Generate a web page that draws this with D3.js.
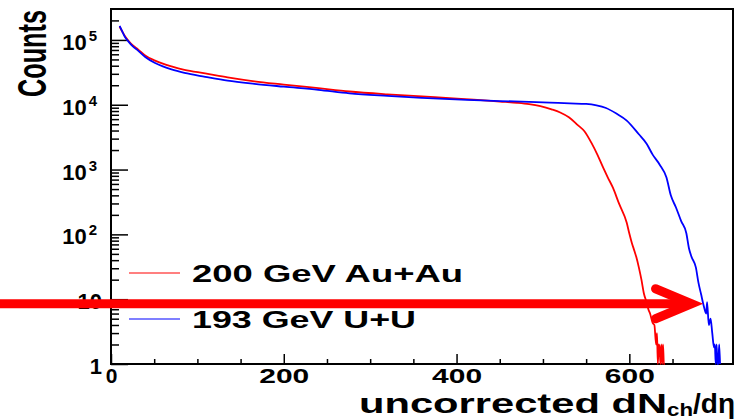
<!DOCTYPE html>
<html>
  <head>
    <meta charset="utf-8">
    <style>
      body { margin: 0; background: #fff; }
      text { font-family: "Liberation Sans", Arial, sans-serif; }
      .axis path { display: none; }
      .axis line { stroke: #000; stroke-width: 1.5px; }
      .axis text { font-size: 21px; font-weight: bold; fill: #000; }
    </style>
  </head>
  <body>
    <svg width="743" height="419"></svg>
    <script src="https://cdn.jsdelivr.net/npm/d3@7"></script>
    <script>
      // uncorrected dNch/deta, counts
      var auauX = [10, 13, 16, 20, 25, 31, 40, 51, 60, 70, 85, 109, 135, 166, 200, 240, 276, 320, 360, 392, 420, 450, 470, 484, 497, 510, 520, 530, 540, 548, 556, 563, 570, 575, 581, 588, 597, 600, 603, 606, 608, 611, 614, 617, 620, 622, 624, 627, 629, 631, 632, 633, 634, 635, 636, 637, 638, 639, 640, 641];
      var auauY = [1.6e5, 1.35e5, 1.15e5, 9.8e4, 8.3e4, 7.2e4, 5.7e4, 4.8e4, 4.3e4, 3.9e4, 3.45e4, 3.05e4, 2.65e4, 2.3e4, 2.05e4, 1.8e4, 1.6e4, 1.45e4, 1.35e4, 1.26e4, 1.2e4, 1.12e4, 1.07e4, 1.02e4, 9.5e3, 8.5e3, 7.6e3, 6.4e3, 4.9e3, 3.9e3, 2.6e3, 1.7e3, 1.05e3, 760, 525, 300, 151, 103, 73, 55, 45, 31, 20, 12, 9, 7, 6, 4.3, 4, 2, 3, 1, 2, 1.8, 1, 2, 1, 2, 1, 1];

      var uuX = [10, 13, 16, 20, 25, 31, 40, 51, 60, 70, 85, 109, 135, 166, 200, 240, 276, 320, 360, 392, 420, 450, 484, 508, 531, 550, 562, 573, 585, 597, 611, 620, 627, 635, 643, 648, 654, 660, 666, 669, 672, 677, 680, 683, 686, 689, 690, 692, 694, 696, 698, 699, 700, 701, 702, 703, 704, 705];
      var uuY = [1.65e5, 1.35e5, 1.12e5, 9.5e4, 8e4, 6.9e4, 5.4e4, 4.4e4, 3.9e4, 3.5e4, 3.1e4, 2.7e4, 2.35e4, 2.1e4, 1.9e4, 1.7e4, 1.5e4, 1.37e4, 1.28e4, 1.22e4, 1.18e4, 1.14e4, 1.11e4, 1.08e4, 1.05e4, 1.03e4, 9.8e3, 8.9e3, 7.3e3, 5.7e3, 3.5e3, 2.5e3, 1.7e3, 1.2e3, 753, 400, 260, 160, 104, 61, 45, 31, 18, 12, 8, 6, 9, 4, 5, 3, 1.8, 2, 1, 2, 1, 1, 2, 1];

      var xMajor = [0, 200, 400, 600];
      var xMinor = [50, 100, 150, 250, 300, 350, 450, 500, 550, 650, 700];
      var yMajor = [1, 10, 100, 1000, 10000, 100000];
      var yExp = ["", "", "2", "3", "4", "5"];
      var yBase = ["1", "10", "10", "10", "10", "10"];

      var legendLabels = ["200 GeV Au+Au", "193 GeV U+U"];
      var colors = ["#ff0000", "#0000ff"];

      // annotation arrow: points at the U+U tail around 10 counts
      var arrowY = 8.5, arrowTip = 672;

      var svg = d3.select("svg");
      var pLeft = 111, pRight = 733, pTop = 9, pBottom = 364;

      var x = d3.scaleLinear().domain([0, 720]).range([pLeft, pRight]);
      var y = d3.scaleLog().domain([1, 3e5]).range([pBottom, pTop]).clamp(true);

      // frame
      svg.append("rect")
        .attr("x", pLeft).attr("y", pTop)
        .attr("width", pRight - pLeft).attr("height", pBottom - pTop)
        .attr("fill", "none").attr("stroke", "#000").attr("stroke-width", 2);

      // x axis
      svg.append("g").attr("class", "axis")
        .attr("transform", "translate(0," + pBottom + ")")
        .call(d3.axisBottom(x).tickValues(xMajor).tickSize(-10).tickPadding(4).tickFormat(d3.format("d")))
        .selectAll("text")
        .each(function(d) { if (d > 0) d3.select(this).attr("textLength", 50).attr("lengthAdjust", "spacingAndGlyphs"); });

      svg.append("g").attr("class", "axis")
        .attr("transform", "translate(0," + pBottom + ")")
        .call(d3.axisBottom(x).tickValues(xMinor).tickSize(-5).tickFormat(""));

      // y axis
      var minor = [];
      for (var k = 0; k < 6; k++) {
        for (var m = 2; m <= 9; m++) {
          if (m * Math.pow(10, k) < 3e5) minor.push(m * Math.pow(10, k));
        }
      }

      var yAxis = svg.append("g").attr("class", "axis")
        .attr("transform", "translate(" + pLeft + ",0)")
        .call(d3.axisLeft(y).tickValues(yMajor).tickSize(-17).tickPadding(14));

      yAxis.selectAll("text")
        .text(null)
        .attr("dy", "0.45em")
        .attr("x", function(d, i) { return yExp[i] ? -14 : -9; })
        .each(function(d, i) {
          var t = d3.select(this);
          t.append("tspan").attr("font-size", 22).text(yBase[i]);
          if (yExp[i]) t.append("tspan").attr("font-size", 15).attr("dx", 2).attr("dy", "-0.6em").text(yExp[i]);
        });

      svg.append("g").attr("class", "axis")
        .attr("transform", "translate(" + pLeft + ",0)")
        .call(d3.axisLeft(y).tickValues(minor).tickSize(-8).tickFormat(""));

      // histograms
      var line = d3.line()
        .curve(d3.curveMonotoneX)
        .x(function(d) { return x(d[0]); })
        .y(function(d) { return y(d[1]); });

      var series = [d3.zip(auauX, auauY), d3.zip(uuX, uuY)];
      svg.append("g").selectAll("path")
        .data(series)
        .enter().append("path")
        .attr("d", line)
        .attr("fill", "none")
        .attr("stroke", function(d, i) { return colors[i]; })
        .attr("stroke-width", 1.8)
        .attr("stroke-linejoin", "round");

      // legend
      var legend = svg.append("g").selectAll("g")
        .data(legendLabels)
        .enter().append("g")
        .attr("transform", function(d, i) { return "translate(129," + (273 + i * 46) + ")"; });

      legend.append("line")
        .attr("x1", 0).attr("x2", 51)
        .attr("stroke", function(d, i) { return colors[i]; })
        .attr("stroke-width", 1.2);

      legend.append("text")
        .attr("x", 63).attr("y", 9)
        .attr("font-size", 24)
        .attr("font-weight", "bold")
        .attr("textLength", function(d, i) { return i === 0 ? 271 : 224; })
        .attr("lengthAdjust", "spacingAndGlyphs")
        .text(function(d) { return d; });

      // axis titles
      svg.append("text")
        .attr("transform", "translate(46,97) rotate(-90)")
        .attr("font-size", 40)
        .attr("font-weight", "bold")
        .attr("textLength", 87)
        .attr("lengthAdjust", "spacingAndGlyphs")
        .text("Counts");

      var xt = svg.append("text")
        .attr("x", 359).attr("y", 413)
        .attr("font-size", 28)
        .attr("font-weight", "bold");
      xt.append("tspan").attr("textLength", 308).attr("lengthAdjust", "spacingAndGlyphs").text("uncorrected dN");
      xt.append("tspan").attr("font-size", 18).attr("dy", 3).attr("textLength", 26).attr("lengthAdjust", "spacingAndGlyphs").text("ch");
      xt.append("tspan").attr("dy", -3).attr("textLength", 42).attr("lengthAdjust", "spacingAndGlyphs").text("/dη");

      // red arrow
      var ay = y(arrowY), ax = x(arrowTip);
      svg.append("path")
        .attr("d", "M0," + ay + "H" + (ax - 4))
        .attr("stroke", "#ff0000").attr("stroke-width", 9).attr("fill", "none");
      svg.append("path")
        .attr("d", "M" + (ax - 36) + "," + (ay - 15) + "L" + ax + "," + ay + "L" + (ax - 36) + "," + (ay + 15))
        .attr("stroke", "#ff0000").attr("stroke-width", 9).attr("fill", "none")
        .attr("stroke-linecap", "round").attr("stroke-linejoin", "miter");
    </script>
  </body>
</html>
